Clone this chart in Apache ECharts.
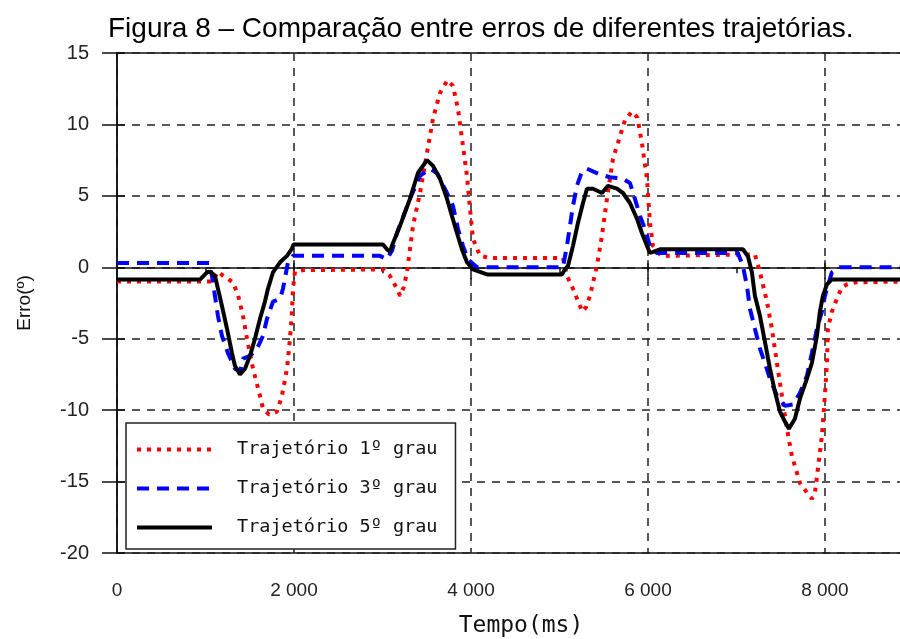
<!DOCTYPE html>
<html>
<head>
<meta charset="utf-8">
<title>Figura 8</title>
<script src="https://cdn.jsdelivr.net/npm/echarts@6.0.0/dist/echarts.min.js"></script>
<style>
    html, body { margin: 0; padding: 0; background: #fff; }
    #myChart { width: 900px; height: 639px; }
</style>
</head>
<body>
<div id="myChart"></div>
<script>
// tempo (ms) e erro (graus) de cada trajetória
const tRed = [0, 1080, 1141, 1200, 1311, 1370, 1424, 1469, 1537, 1616, 1650, 1720, 1808, 1864, 1921, 1955, 1977, 1989, 2011, 2100,
    3006, 3085, 3164, 3200, 3240, 3277, 3345, 3424, 3503, 3571, 3650, 3735, 3797, 3853, 3910, 3955, 3989, 4023, 4102, 4215,
    5040, 5085, 5153, 5232, 5260, 5300, 5345, 5424, 5480, 5537, 5605, 5661, 5740, 5819, 5880, 5932, 5989, 6023, 6057, 6136, 6200,
    7150, 7209, 7266, 7345, 7401, 7458, 7514, 7571, 7627, 7718, 7800, 7853, 7887, 7921, 7966, 8000, 8023, 8034, 8079, 8136, 8192, 8249, 8350, 8860];
const eRed = [-1.0, -1.0, -0.3, -0.6, -1.05, -2.0, -3.4, -5.0, -7.1, -9.0, -9.9, -10.3, -10.1, -9.0, -7.1, -5.0, -3.1, -1.5, -0.3, -0.2,
    -0.15, -0.6, -1.5, -2.0, -1.4, -0.35, 2.9, 5.2, 8.0, 10.4, 12.2, 13.1, 12.7, 11.1, 8.5, 6.4, 4.1, 2.0, 0.8, 0.65,
    0.65, -0.6, -1.5, -2.7, -3.1, -2.8, -2.0, 0.1, 2.2, 4.8, 7.6, 8.7, 10.3, 10.9, 10.5, 8.7, 6.2, 3.1, 1.5, 0.9, 0.8,
    0.9, 0.9, -0.35, -2.4, -4.3, -6.7, -9.0, -11.3, -13.2, -15.1, -15.8, -16.2, -15.8, -14.1, -11.8, -9.0, -6.7, -4.3, -3.1, -2.2, -1.4, -1.2, -1.05, -1.0];

const tBlue = [0, 1040, 1073, 1107, 1141, 1186, 1254, 1333, 1390, 1424, 1503, 1582, 1650, 1695, 1763, 1842, 1876, 1932, 1989, 2068,
    2972, 3051, 3110, 3164, 3311, 3424, 3537, 3616, 3729, 3797, 3853, 3910, 3966, 4068, 4294,
    5040, 5085, 5119, 5153, 5198, 5254, 5311, 5458, 5571, 5718, 5797, 5853, 5910, 5966, 6023, 6102,
    7017, 7073, 7119, 7153, 7209, 7266, 7322, 7379, 7458, 7548, 7638, 7718, 7797, 7853, 7910, 7966, 8000, 8079, 8170, 8860];
const eBlue = [0.3, 0.3, -0.6, -2.0, -3.4, -4.8, -6.0, -7.1, -7.3, -6.4, -6.2, -5.7, -4.8, -3.6, -2.4, -2.2, -1.5, 0.35, 0.8, 0.8,
    0.8, 0.56, 1.2, 2.4, 4.8, 6.4, 6.9, 6.6, 5.2, 4.3, 2.7, 1.5, 0.56, 0.0, 0.0,
    0.0, 1.5, 2.9, 4.3, 5.7, 6.7, 6.9, 6.5, 6.3, 6.2, 5.9, 4.8, 3.6, 2.7, 1.5, 1.0,
    1.0, 0.1, -1.3, -2.9, -4.3, -5.7, -6.7, -7.8, -9.0, -9.7, -9.6, -8.8, -7.6, -6.0, -4.3, -3.1, -2.0, -0.35, 0.0, 0.0];

const tBlack = [0, 940, 1017, 1051, 1107, 1141, 1186, 1243, 1299, 1333, 1390, 1446, 1503, 1559, 1616, 1672, 1706, 1763, 1842, 1921, 1977, 1995,
    3006, 3051, 3085, 3107, 3198, 3311, 3401, 3503, 3571, 3650, 3729, 3785, 3842, 3898, 3955, 4023, 4181,
    5028, 5062, 5096, 5153, 5209, 5266, 5311, 5379, 5480, 5548, 5650, 5718, 5797, 5876, 5932, 5989, 6023, 6136,
    7073, 7130, 7175, 7209, 7266, 7322, 7379, 7435, 7492, 7548, 7593, 7661, 7718, 7797, 7853, 7910, 7944, 7977, 8023, 8079, 8860];
const eBlack = [-0.85, -0.85, -0.35, -0.3, -0.6, -1.5, -2.7, -4.3, -6.0, -6.9, -7.5, -7.1, -6.2, -5.0, -3.6, -2.4, -1.5, -0.35, 0.35, 0.8, 1.3, 1.6,
    1.6, 1.26, 1.1, 1.5, 2.9, 4.8, 6.6, 7.5, 7.1, 6.2, 4.8, 3.6, 2.4, 1.26, 0.35, -0.14, -0.5,
    -0.5, -0.14, 0.07, 1.5, 3.1, 4.5, 5.5, 5.5, 5.2, 5.7, 5.5, 5.2, 4.5, 3.4, 2.4, 1.5, 1.0, 1.26,
    1.26, 0.77, -0.35, -2.0, -3.4, -5.2, -7.1, -8.7, -10.1, -10.8, -11.3, -10.6, -9.2, -7.8, -6.7, -4.8, -3.1, -2.0, -1.2, -0.85, -0.85];

const legendNames = ['Trajetório 1º grau', 'Trajetório 3º grau', 'Trajetório 5º grau'];
const xMin = 0, xMax = 8860, xStep = 2000;
const yMin = -20, yMax = 15, yStep = 5;

function pairs(t, e) {
    return t.map((v, i) => [v, e[i]]);
}

let myChart = echarts.init(document.getElementById('myChart'));

const gridDash = { color: '#222', width: 1.5, type: [8, 7] };

myChart.setOption({
    animation: false,
    backgroundColor: '#fff',
    title: {
        text: 'Figura 8 – Comparação entre erros de diferentes trajetórias.',
        left: 103,
        top: 10,
        textStyle: { fontFamily: 'Liberation Sans', fontSize: 28, fontWeight: 'normal', color: '#000' }
    },
    grid: {
        left: 117, top: 53, width: 784, height: 500,
        show: true, borderColor: '#111', borderWidth: 1.5,
        outerBoundsMode: 'none'
    },
    legend: {
        data: legendNames,
        orient: 'vertical',
        left: 126, top: 423,
        padding: [17, 18, 12, 9],
        itemWidth: 75, itemHeight: 18, itemGap: 20,
        borderColor: '#222', borderWidth: 1.5,
        backgroundColor: '#fff',
        itemStyle: { opacity: 0 },
        lineStyle: { width: 4 },
        textStyle: { fontFamily: 'DejaVu Sans Mono', fontSize: 18.5, color: '#111', padding: [0, 0, 0, 20] }
    },
    xAxis: [{
        type: 'value', min: xMin, max: xMax, interval: xStep,
        name: 'Tempo(ms)', nameLocation: 'middle', nameGap: 62,
        nameTextStyle: { fontFamily: 'DejaVu Sans Mono', fontSize: 23, color: '#111', padding: [0, 0, 0, 24] },
        axisLine: { show: true, lineStyle: { color: '#111', width: 1.5 } },
        axisTick: { show: true, length: 12, lineStyle: { color: '#111', width: 1.5 } },
        minorTick: { show: true, splitNumber: 2, length: 6, lineStyle: { color: '#111', width: 1.5 } },
        axisLabel: {
            margin: 28, showMaxLabel: false,
            fontFamily: 'Liberation Sans', fontSize: 19, color: '#222',
            formatter: v => v === 0 ? '0' : (v / 1000) + ' 000'
        },
        splitLine: { show: true, lineStyle: gridDash }
    }, {
        type: 'value', min: xMin, max: xMax, interval: xStep, position: 'bottom',
        axisLine: { show: false },
        axisTick: { show: true, inside: true, length: 7, lineStyle: { color: '#111', width: 1.5 } },
        axisLabel: { show: false },
        splitLine: { show: false }
    }],
    yAxis: [{
        type: 'value', min: yMin, max: yMax, interval: yStep,
        name: 'Erro(º)', nameLocation: 'middle', nameGap: 83, nameRotate: 90,
        nameTextStyle: { fontFamily: 'Liberation Sans', fontSize: 19, color: '#111' },
        axisLine: { show: true, lineStyle: { color: '#111', width: 1.5 } },
        axisTick: { show: true, length: 15, lineStyle: { color: '#111', width: 1.5 } },
        axisLabel: { margin: 28, fontFamily: 'Liberation Sans', fontSize: 20, color: '#222' },
        splitLine: { show: true, lineStyle: gridDash }
    }, {
        type: 'value', min: yMin, max: yMax, interval: yStep, position: 'left',
        axisLine: { show: false },
        axisTick: { show: true, inside: true, length: 8, lineStyle: { color: '#111', width: 1.5 } },
        axisLabel: { show: false },
        splitLine: { show: false }
    }],
    series: [{
        name: legendNames[0], type: 'line', symbol: 'none',
        data: pairs(tRed, eRed),
        lineStyle: { color: '#ff0000', width: 4, type: [4, 6], cap: 'butt' },
        itemStyle: { color: '#ff0000' }
    }, {
        name: legendNames[1], type: 'line', symbol: 'none',
        data: pairs(tBlue, eBlue),
        lineStyle: { color: '#0000ff', width: 4, type: [12, 8], cap: 'butt' },
        itemStyle: { color: '#0000ff' }
    }, {
        name: legendNames[2], type: 'line', symbol: 'none',
        data: pairs(tBlack, eBlack),
        lineStyle: { color: '#000', width: 4 },
        itemStyle: { color: '#000' }
    }]
});
</script>
</body>
</html>
